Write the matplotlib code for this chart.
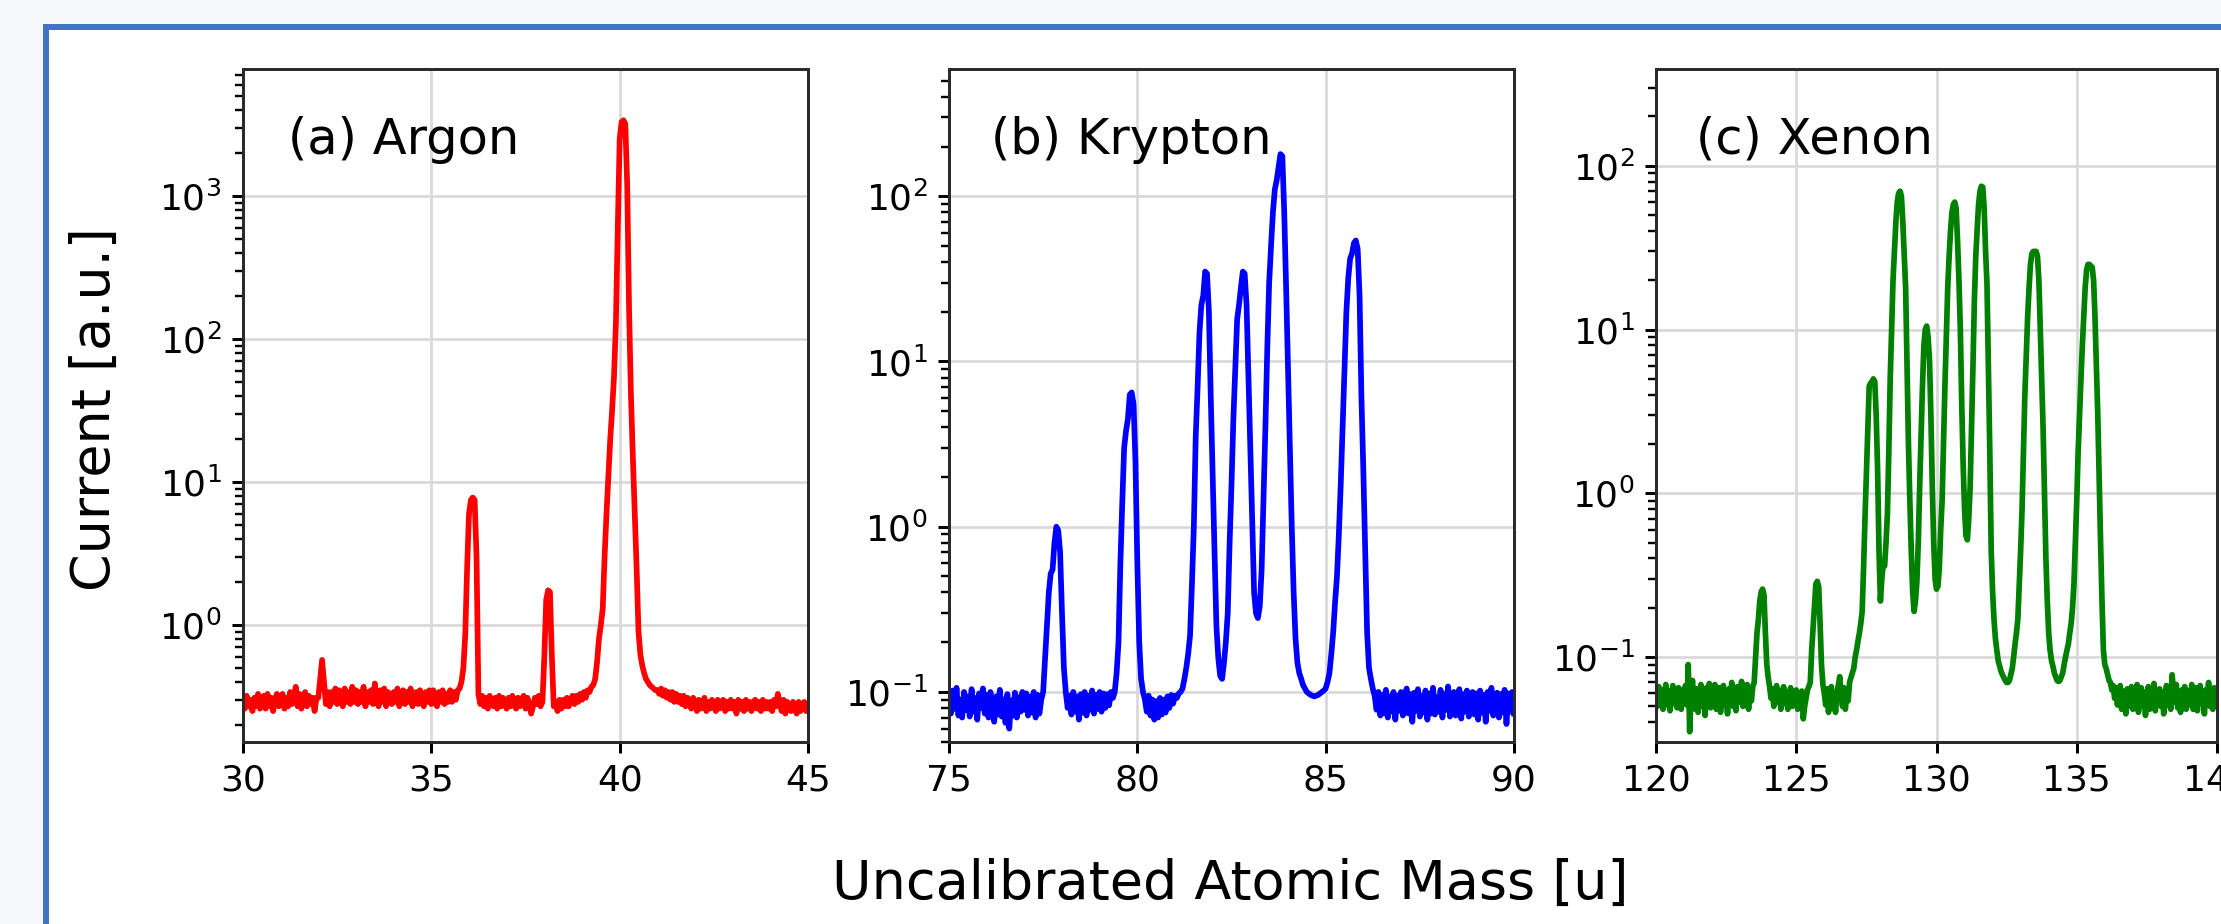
import numpy as np
import matplotlib
matplotlib.use('Agg')
import matplotlib.pyplot as plt
from matplotlib.patches import Rectangle

W, H, DPI = 2221, 924, 216

# mass scans, sampled every 0.05 u
ar_mass = np.linspace(30, 45, 301)
kr_mass = np.linspace(75, 90, 301)
xe_mass = np.linspace(120, 140, 401)

# one row per 1 u
ar_current = [
    0.31, 0.26, 0.32, 0.27, 0.30, 0.25, 0.31, 0.27, 0.33, 0.26, 0.30, 0.32, 0.26, 0.33, 0.27, 0.31, 0.25, 0.30, 0.33, 0.27,
    0.30, 0.33, 0.26, 0.31, 0.27, 0.34, 0.28, 0.32, 0.37, 0.27, 0.33, 0.26, 0.31, 0.34, 0.27, 0.32, 0.28, 0.31, 0.25, 0.31,
    0.31, 0.42, 0.57, 0.40, 0.28, 0.34, 0.27, 0.34, 0.29, 0.36, 0.28, 0.35, 0.30, 0.27, 0.36, 0.29, 0.34, 0.28, 0.37, 0.29,
    0.35, 0.28, 0.34, 0.29, 0.37, 0.27, 0.34, 0.29, 0.35, 0.28, 0.39, 0.30, 0.27, 0.35, 0.29, 0.36, 0.27, 0.34, 0.30, 0.28,
    0.34, 0.29, 0.36, 0.27, 0.32, 0.35, 0.28, 0.34, 0.29, 0.36, 0.27, 0.33, 0.34, 0.28, 0.35, 0.29, 0.27, 0.34, 0.29, 0.35,
    0.28, 0.35, 0.29, 0.27, 0.34, 0.29, 0.35, 0.28, 0.33, 0.29, 0.35, 0.29, 0.34, 0.30, 0.35, 0.36, 0.40, 0.50, 0.85, 2.5,
    6.0, 7.5, 7.8, 7.5, 3.0, 0.33, 0.28, 0.32, 0.27, 0.31, 0.26, 0.32, 0.28, 0.27, 0.31, 0.26, 0.32, 0.27, 0.31, 0.28,
    0.26, 0.31, 0.27, 0.32, 0.28, 0.26, 0.31, 0.27, 0.30, 0.32, 0.26, 0.31, 0.28, 0.24, 0.27, 0.31, 0.28, 0.32, 0.27, 0.29,
    0.6, 1.5, 1.75, 1.7, 0.6, 0.27, 0.29, 0.25, 0.30, 0.26, 0.30, 0.27, 0.31, 0.27, 0.30, 0.32, 0.28, 0.32, 0.29, 0.33,
    0.30, 0.34, 0.31, 0.35, 0.34, 0.37, 0.38, 0.42, 0.55, 0.8, 1.0, 1.3, 3.0, 6.0, 11, 20, 32, 55, 130, 600,
    2500, 3300, 3400, 3200, 1200, 160, 40, 15, 6.0, 2.5, 0.9, 0.62, 0.52, 0.46, 0.42, 0.40, 0.38, 0.37, 0.36, 0.35,
    0.35, 0.33, 0.36, 0.32, 0.35, 0.31, 0.34, 0.30, 0.34, 0.29, 0.33, 0.29, 0.32, 0.28, 0.32, 0.27, 0.31, 0.28, 0.26, 0.31,
    0.29, 0.25, 0.30, 0.26, 0.29, 0.31, 0.25, 0.29, 0.26, 0.30, 0.28, 0.25, 0.30, 0.26, 0.29, 0.30, 0.25, 0.29, 0.26, 0.30,
    0.26, 0.29, 0.24, 0.30, 0.26, 0.29, 0.25, 0.30, 0.26, 0.29, 0.25, 0.29, 0.30, 0.26, 0.29, 0.25, 0.30, 0.26, 0.29, 0.26,
    0.29, 0.25, 0.30, 0.27, 0.33, 0.28, 0.25, 0.30, 0.24, 0.29, 0.26, 0.25, 0.29, 0.26, 0.24, 0.29, 0.25, 0.27, 0.29, 0.25,
    0.27,
]

kr_current = [
    0.095, 0.074, 0.102, 0.079, 0.106, 0.072, 0.090, 0.070, 0.100, 0.078, 0.094, 0.071, 0.104, 0.076, 0.092, 0.068, 0.098, 0.080, 0.105, 0.074,
    0.096, 0.070, 0.100, 0.077, 0.066, 0.094, 0.073, 0.103, 0.071, 0.090, 0.065, 0.097, 0.060, 0.089, 0.072, 0.099, 0.070, 0.093, 0.076, 0.100,
    0.078, 0.098, 0.072, 0.094, 0.075, 0.100, 0.070, 0.096, 0.074, 0.090, 0.10, 0.16, 0.25, 0.40, 0.52, 0.55, 0.80, 1.0, 0.95, 0.70,
    0.30, 0.14, 0.10, 0.080, 0.095, 0.073, 0.100, 0.076, 0.094, 0.068, 0.097, 0.075, 0.100, 0.072, 0.095, 0.078, 0.102, 0.074, 0.096, 0.079,
    0.100, 0.076, 0.098, 0.080, 0.097, 0.083, 0.100, 0.092, 0.10, 0.13, 0.20, 0.60, 1.4, 3.0, 3.8, 4.5, 6.3, 6.5, 5.5, 2.5,
    0.60, 0.20, 0.12, 0.10, 0.090, 0.076, 0.095, 0.072, 0.090, 0.068, 0.088, 0.070, 0.092, 0.073, 0.090, 0.075, 0.094, 0.080, 0.096, 0.085,
    0.095, 0.092, 0.098, 0.10, 0.105, 0.12, 0.14, 0.17, 0.22, 0.45, 1.0, 3.5, 7.0, 15, 22, 25, 35, 34, 20, 6.0,
    2.0, 0.70, 0.25, 0.16, 0.125, 0.12, 0.15, 0.20, 0.30, 0.80, 1.8, 4.5, 9.0, 18, 22, 28, 35, 34, 22, 8.0,
    3.0, 1.0, 0.40, 0.30, 0.28, 0.33, 0.55, 1.5, 4.0, 12, 30, 50, 80, 110, 125, 150, 180, 175, 80, 28,
    9.0, 3.0, 1.0, 0.40, 0.21, 0.15, 0.13, 0.12, 0.11, 0.105, 0.10, 0.098, 0.096, 0.095, 0.094, 0.095, 0.096, 0.098, 0.10, 0.102,
    0.105, 0.115, 0.13, 0.17, 0.23, 0.35, 0.50, 0.90, 1.8, 4.0, 9.0, 20, 32, 42, 45, 52, 54, 48, 25, 6.0,
    2.2, 0.70, 0.23, 0.14, 0.12, 0.105, 0.095, 0.078, 0.100, 0.072, 0.096, 0.074, 0.103, 0.070, 0.094, 0.076, 0.100, 0.068, 0.095, 0.077,
    0.100, 0.072, 0.094, 0.105, 0.074, 0.097, 0.066, 0.099, 0.077, 0.104, 0.071, 0.095, 0.075, 0.102, 0.068, 0.098, 0.074, 0.106, 0.073, 0.093,
    0.076, 0.103, 0.070, 0.097, 0.078, 0.108, 0.071, 0.094, 0.100, 0.072, 0.095, 0.104, 0.069, 0.097, 0.076, 0.102, 0.071, 0.096, 0.100, 0.073,
    0.098, 0.068, 0.102, 0.075, 0.096, 0.066, 0.100, 0.077, 0.106, 0.072, 0.095, 0.099, 0.070, 0.097, 0.075, 0.103, 0.064, 0.098, 0.076, 0.100,
    0.074,
]

xe_current = [
    0.060, 0.050, 0.066, 0.053, 0.063, 0.048, 0.058, 0.068, 0.051, 0.062, 0.047, 0.059, 0.067, 0.052, 0.061, 0.049, 0.065, 0.055, 0.048, 0.063,
    0.056, 0.067, 0.051, 0.090, 0.035, 0.060, 0.072, 0.053, 0.048, 0.064, 0.046, 0.058, 0.068, 0.050, 0.061, 0.044, 0.065, 0.053, 0.069, 0.049,
    0.062, 0.052, 0.068, 0.048, 0.059, 0.065, 0.046, 0.057, 0.067, 0.051, 0.061, 0.045, 0.064, 0.054, 0.070, 0.050, 0.059, 0.047, 0.066, 0.055,
    0.053, 0.071, 0.050, 0.062, 0.055, 0.068, 0.048, 0.063, 0.054, 0.066, 0.070, 0.10, 0.14, 0.17, 0.22, 0.25, 0.26, 0.24, 0.14, 0.090,
    0.075, 0.066, 0.056, 0.064, 0.050, 0.061, 0.067, 0.053, 0.062, 0.048, 0.058, 0.066, 0.052, 0.061, 0.048, 0.057, 0.065, 0.050, 0.060, 0.054,
    0.063, 0.048, 0.058, 0.052, 0.062, 0.042, 0.050, 0.056, 0.063, 0.066, 0.070, 0.11, 0.15, 0.20, 0.28, 0.29, 0.27, 0.16, 0.090, 0.068,
    0.060, 0.051, 0.064, 0.046, 0.057, 0.066, 0.049, 0.060, 0.046, 0.061, 0.067, 0.076, 0.059, 0.050, 0.065, 0.048, 0.061, 0.054, 0.070, 0.075,
    0.080, 0.085, 0.10, 0.11, 0.125, 0.14, 0.16, 0.19, 0.35, 0.70, 1.3, 2.5, 4.5, 4.7, 4.8, 5.0, 4.8, 3.0, 1.4, 0.45,
    0.22, 0.30, 0.37, 0.36, 0.50, 0.75, 1.8, 5.0, 10, 20, 30, 45, 60, 68, 70, 65, 45, 28, 18, 6.0,
    2.0, 0.90, 0.45, 0.25, 0.19, 0.22, 0.29, 0.50, 1.1, 2.2, 4.5, 8.0, 10, 10.5, 9.0, 6.5, 3.0, 1.1, 0.50, 0.30,
    0.26, 0.27, 0.35, 0.60, 0.90, 2.0, 4.5, 9.0, 18, 28, 40, 52, 58, 60, 55, 35, 20, 10, 3.5, 1.5,
    0.80, 0.55, 0.52, 0.70, 1.1, 2.5, 6.0, 15, 28, 41, 58, 70, 75, 74, 55, 30, 19, 6.0, 1.8, 0.45,
    0.25, 0.17, 0.13, 0.11, 0.095, 0.088, 0.082, 0.078, 0.075, 0.072, 0.070, 0.070, 0.072, 0.078, 0.085, 0.10, 0.12, 0.14, 0.17, 0.28,
    0.45, 0.80, 1.8, 4.0, 7.0, 12, 18, 25, 29, 30, 30, 30, 28, 20, 10, 5.0, 2.5, 1.0, 0.40, 0.22,
    0.14, 0.11, 0.095, 0.088, 0.080, 0.076, 0.072, 0.071, 0.072, 0.076, 0.080, 0.090, 0.10, 0.11, 0.12, 0.14, 0.16, 0.20, 0.28, 0.50,
    0.90, 1.8, 3.0, 5.0, 8.0, 12, 18, 23, 25, 25, 24.5, 24, 20, 12, 6.0, 3.0, 1.2, 0.50, 0.22, 0.11,
    0.090, 0.085, 0.078, 0.072, 0.070, 0.063, 0.067, 0.056, 0.065, 0.051, 0.061, 0.067, 0.048, 0.062, 0.055, 0.045, 0.064, 0.050, 0.059, 0.066,
    0.048, 0.061, 0.053, 0.068, 0.046, 0.058, 0.065, 0.050, 0.061, 0.044, 0.057, 0.066, 0.048, 0.062, 0.053, 0.069, 0.047, 0.060, 0.052, 0.064,
    0.050, 0.061, 0.045, 0.058, 0.067, 0.051, 0.061, 0.048, 0.078, 0.063, 0.053, 0.068, 0.049, 0.060, 0.046, 0.063, 0.054, 0.066, 0.048, 0.059,
    0.062, 0.051, 0.068, 0.048, 0.060, 0.065, 0.047, 0.058, 0.067, 0.052, 0.061, 0.045, 0.063, 0.055, 0.070, 0.050, 0.060, 0.048, 0.065, 0.054,
    0.060,
]

panel_labels = ['(a) Argon', '(b) Krypton', '(c) Xenon']
colors = ['red', 'blue', 'green']
xlims = [(30, 45), (75, 90), (120, 140)]
xticks = [[30, 35, 40, 45], [75, 80, 85, 90], [120, 125, 130, 135, 140]]
ylims = [(0.152, 7760), (0.0498, 589), (0.0303, 390)]

# axes boxes in pixels (left, right), shared top/bottom
boxes = [(243, 808), (949, 1514), (1656, 2217)]
top, bottom = 69, 742
label_x = [0.080, 0.074, 0.071]

fig = plt.figure(figsize=(W / DPI, H / DPI), dpi=DPI, facecolor='#f8f9fc')

# slide frame
frame = Rectangle((46 / W, -0.5), 2.0, 1.5 - 26.5 / H, transform=fig.transFigure,
                  facecolor='white', edgecolor='#4472c4', linewidth=2.0, zorder=-10)
fig.add_artist(frame)

data = [(ar_mass, ar_current), (kr_mass, kr_current), (xe_mass, xe_current)]
for i, (mass, current) in enumerate(data):
    l, r = boxes[i]
    ax = fig.add_axes([l / W, (H - bottom) / H, (r - l) / W, (bottom - top) / H])
    ax.semilogy(mass, current, color=colors[i], lw=1.9)
    ax.set_xlim(*xlims[i])
    ax.set_ylim(*ylims[i])
    ax.set_xticks(xticks[i])
    ax.grid(True, which='major', color='#d9d9d9', lw=0.9)
    ax.tick_params(which='major', labelsize=12, length=3.7, width=1.0)
    ax.tick_params(which='minor', length=2.6, width=0.8)
    for s in ax.spines.values():
        s.set_linewidth(1.0)
        s.set_color('#2b2b2b')
    ax.text(label_x[i], 0.874, panel_labels[i], transform=ax.transAxes, fontsize=16.5)

fig.text(95 / W, 0.557, 'Current [a.u.]', rotation=90, ha='center', va='center', fontsize=18)
fig.text(1230 / W, 25 / H, 'Uncalibrated Atomic Mass [u]', ha='center', va='baseline', fontsize=18)

fig.savefig('out.png', dpi=DPI)
